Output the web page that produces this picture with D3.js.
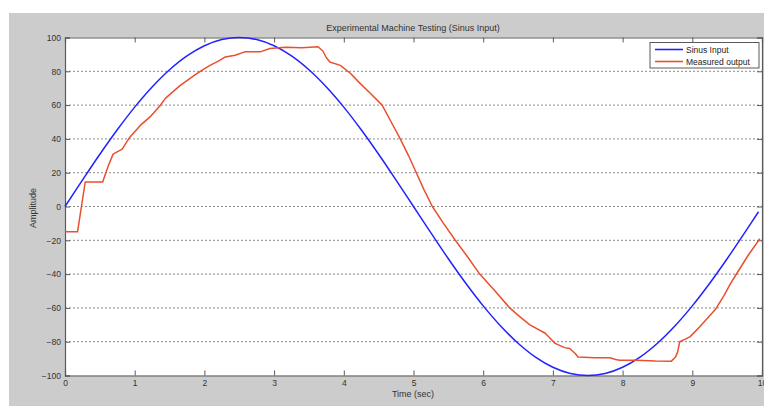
<!DOCTYPE html>
<html>
<head>
<meta charset="utf-8">
<script src="https://cdn.jsdelivr.net/npm/d3@7"></script>
<style>
  body { margin: 0; background: #fff; }
  text { font-family: "Liberation Sans", Arial, sans-serif; }
</style>
</head>
<body>
<svg id="chart" width="764" height="407"></svg>
<script>
// Sinus input (time in sec, amplitude)
const sinusTime = [0, 0.25, 0.5, 0.75, 1, 1.25, 1.5, 1.75, 2, 2.25, 2.5, 2.75, 3, 3.25, 3.5, 3.75,
  4, 4.25, 4.5, 4.75, 5, 5.25, 5.5, 5.75, 6, 6.25, 6.5, 6.75, 7, 7.25, 7.5, 7.75,
  8, 8.25, 8.5, 8.75, 9, 9.25, 9.5, 9.75, 9.95];
const sinusValues = [0, 15.6, 30.9, 45.4, 58.8, 70.7, 80.9, 89.1, 95.1, 98.8, 100, 98.8, 95.1, 89.1, 80.9, 70.7,
  58.8, 45.4, 30.9, 15.6, 0, -15.6, -30.9, -45.4, -58.8, -70.7, -80.9, -89.1, -95.1, -98.8, -100, -98.8,
  -95.1, -89.1, -80.9, -70.7, -58.8, -45.4, -30.9, -15.6, -3.1];

// Measured output
const measTime = [0, 0.18, 0.29, 0.54, 0.62, 0.69, 0.82, 0.93, 1.08, 1.22, 1.36, 1.44, 1.55, 1.65, 1.75, 1.87,
  1.98, 2.08, 2.2, 2.3, 2.44, 2.58, 2.8, 2.94, 3.16, 3.4, 3.63, 3.7, 3.75, 3.8, 3.95, 4.09,
  4.23, 4.38, 4.55, 4.68, 4.81, 4.93, 5.04, 5.15, 5.27, 5.43, 5.6, 5.78, 5.95, 6.17, 6.38,
  6.52, 6.67, 6.89, 6.96, 7.03, 7.17, 7.24, 7.32, 7.36, 7.6, 7.82, 7.9, 7.96, 8.2, 8.47,
  8.7, 8.76, 8.79, 8.82, 8.9, 8.97, 9.11, 9.22, 9.33, 9.45, 9.55, 9.64, 9.8, 9.97];
const measValues = [-15, -15, 14.5, 14.5, 24, 31, 34, 41, 48, 53, 59.5, 64, 68, 71.5, 74.5, 78,
  81, 83.5, 86, 88.5, 89.5, 91.5, 91.5, 93.5, 94.3, 94, 94.5, 92, 88, 85.5, 83.5, 79,
  73, 67, 60, 50, 40, 30, 20, 10, 0, -10, -20, -30, -40, -50, -60,
  -65, -70, -75, -78, -81, -83.5, -84, -87, -89, -89.5, -89.5, -90.5, -91, -91, -91.4,
  -91.5, -89, -86, -80, -78.5, -77, -71, -66, -61, -53, -45.5, -39.5, -29, -19];

const xTicks = [0, 1, 2, 3, 4, 5, 6, 7, 8, 9, 10];
const yTicks = [-100, -80, -60, -40, -20, 0, 20, 40, 60, 80, 100];
const legendLabels = ["Sinus Input", "Measured output"];

const svg = d3.select("#chart");
const W = 764, H = 407;
const margin = { top: 37.5, right: 2, bottom: 31.5, left: 65 };
const axisCol = "#5a5a5a";

// fond gris de la figura
svg.append("rect").attr("x", 9).attr("y", 13).attr("width", W - 9).attr("height", 393).attr("fill", "#cccccc");

const x = d3.scaleLinear().domain([0, 10]).range([margin.left, W - margin.right]);
const y = d3.scaleLinear().domain([-100, 100]).range([H - margin.bottom, margin.top]);

svg.append("rect")
  .attr("x", x(0)).attr("y", y(100))
  .attr("width", x(10) - x(0)).attr("height", y(-100) - y(100))
  .attr("fill", "#fff");

// graella horitzontal puntejada
svg.append("g")
  .selectAll("line")
  .data(yTicks.filter(d => d > -100 && d < 100))
  .join("line")
  .attr("x1", x(0)).attr("x2", x(10))
  .attr("y1", d => y(d)).attr("y2", d => y(d))
  .attr("stroke", "#8a8a8a")
  .attr("stroke-width", 1)
  .attr("stroke-dasharray", "2,2");

// eixos (ticks cap endins)
const axB = svg.append("g").attr("transform", `translate(0,${y(-100)})`)
  .call(d3.axisBottom(x).tickValues(xTicks).tickSize(-5).tickPadding(4).tickFormat(d3.format("d")));
const axT = svg.append("g").attr("transform", `translate(0,${y(100)})`)
  .call(d3.axisTop(x).tickValues(xTicks).tickSize(-5).tickFormat(""));
const axL = svg.append("g").attr("transform", `translate(${x(0)},0)`)
  .call(d3.axisLeft(y).tickValues(yTicks).tickSize(-5).tickPadding(4).tickFormat(d3.format("d")));
const axR = svg.append("g").attr("transform", `translate(${x(10)},0)`)
  .call(d3.axisRight(y).tickValues(yTicks).tickSize(-5).tickFormat(""));

[axB, axT, axL, axR].forEach(g => {
  g.select(".domain").attr("stroke", axisCol).attr("stroke-width", 1.2);
  g.selectAll(".tick line").attr("stroke", axisCol);
  g.selectAll(".tick text").attr("fill", "#333").style("font-size", "8.5px")
    .style("font-family", "'Liberation Sans', Arial, sans-serif");
});

// línies
const sinusData = sinusTime.map((t, i) => [t, sinusValues[i]]);
const measData = measTime.map((t, i) => [t, measValues[i]]);

svg.append("path")
  .datum(sinusData)
  .attr("fill", "none")
  .attr("stroke", "#2222ff")
  .attr("stroke-width", 1.5)
  .attr("d", d3.line().x(d => x(d[0])).y(d => y(d[1])).curve(d3.curveCatmullRom));

svg.append("path")
  .datum(measData)
  .attr("fill", "none")
  .attr("stroke", "#e8502e")
  .attr("stroke-width", 1.5)
  .attr("stroke-linejoin", "round")
  .attr("d", d3.line().x(d => x(d[0])).y(d => y(d[1])));

// títols
svg.append("text").attr("x", 413).attr("y", 31).attr("text-anchor", "middle")
  .attr("fill", "#333").style("font-size", "9px").text("Experimental Machine Testing (Sinus Input)");
svg.append("text").attr("x", 413).attr("y", 397).attr("text-anchor", "middle")
  .attr("fill", "#333").style("font-size", "9px").text("Time (sec)");
svg.append("text").attr("transform", "translate(36,208) rotate(-90)").attr("text-anchor", "middle")
  .attr("fill", "#333").style("font-size", "9px").text("Amplitude");

// llegenda
const leg = svg.append("g");
leg.append("rect").attr("x", 650).attr("y", 42.5).attr("width", 109).attr("height", 25.5)
  .attr("fill", "#fff").attr("stroke", axisCol).attr("stroke-width", 1);
const legColors = ["#2222ff", "#e8502e"];
legendLabels.forEach((lab, i) => {
  const ly = 49.5 + i * 12;
  leg.append("line").attr("x1", 655).attr("x2", 683).attr("y1", ly).attr("y2", ly)
    .attr("stroke", legColors[i]).attr("stroke-width", 1.6);
  leg.append("text").attr("x", 686).attr("y", ly + 3).attr("fill", "#222")
    .style("font-size", "8.5px").text(lab);
});
</script>
</body>
</html>
